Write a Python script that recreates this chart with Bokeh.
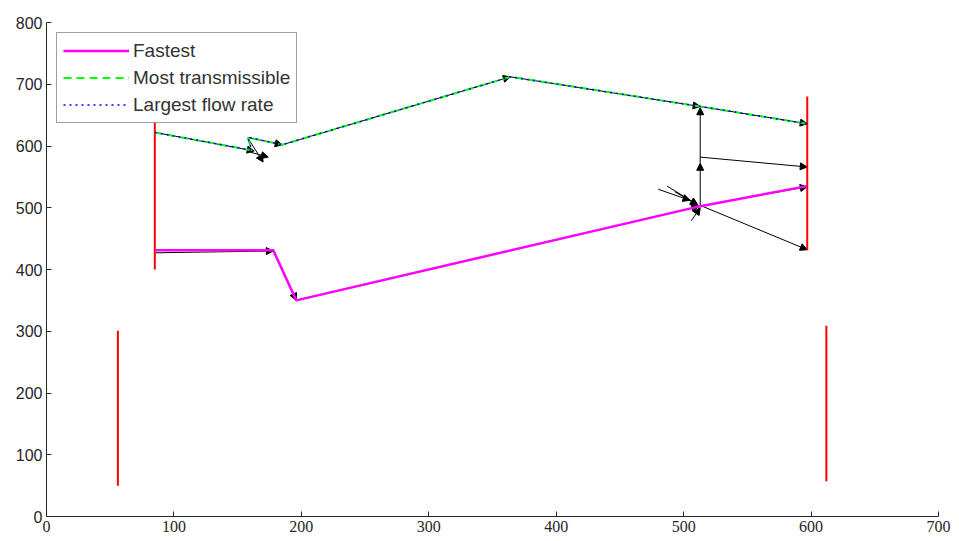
from bokeh.plotting import figure
from bokeh.models import Range1d, ColumnDataSource, Arrow, NormalHead, FixedTicker
from bokeh.embed import file_html
from bokeh.resources import INLINE

# Red boundary bars (x, y-from, y-to)
bar_x = [85, 597, 56, 612]
bar_y0 = [400, 431, 50, 57]
bar_y1 = [645, 680, 301, 309]

# Fastest route
fast_x = [85, 178, 196, 514, 597]
fast_y = [431, 431, 350, 503, 535]

# Most transmissible route
trans_x = [85, 161, 158, 185, 364, 513, 597]
trans_y = [622, 593, 614, 602, 712, 664, 636]

# Largest flow rate route
flow_x = [85, 161, 158, 185, 364, 513, 597]
flow_y = [622, 593, 614, 602, 712, 664, 636]

# Network edges (black arrows)
edge_x0 = [85, 158, 160, 158, 185, 364, 513, 85, 178, 196, 514, 513, 513, 513, 514, 487, 493, 506, 480]
edge_y0 = [622, 613, 590, 614, 602, 712, 664, 427, 430, 350, 503, 503, 572, 582, 503, 535, 526, 479, 530]
edge_x1 = [163, 170, 174, 185, 364, 513, 597, 178, 196, 512, 597, 513, 513, 597, 597, 511, 511, 513, 505]
edge_y1 = [592, 574, 582, 602, 712, 664, 636, 430, 350, 502, 534, 572, 662, 566, 432, 505, 504, 500, 512]

x_ticks = [0, 100, 200, 300, 400, 500, 600, 700]
y_ticks = [0, 100, 200, 300, 400, 500, 600, 700, 800]

p = figure(frame_width=892, frame_height=494, output_backend="svg", toolbar_location=None,
           x_range=Range1d(0, 700), y_range=Range1d(0, 800),
           min_border_left=46, min_border_right=21, min_border_top=22, min_border_bottom=25)
p.outline_line_color = None
p.xgrid.visible = False
p.ygrid.visible = False
p.background_fill_color = "white"
p.border_fill_color = "white"

for ax in (p.xaxis[0], p.yaxis[0]):
    ax.axis_line_color = "#262626"
    ax.major_tick_line_color = "#262626"
    ax.major_tick_in = 5
    ax.major_tick_out = 0
    ax.minor_tick_line_color = None
    ax.major_label_text_color = "#262626"
    ax.major_label_text_font = "Liberation Sans"
    ax.major_label_text_font_size = "16px"
    ax.major_label_standoff = 4
p.xaxis[0].ticker = FixedTicker(ticks=x_ticks)
p.yaxis[0].ticker = FixedTicker(ticks=y_ticks)
p.xaxis[0].major_label_text_font = "Liberation Sans Narrow"
p.xaxis[0].major_label_text_font_size = "16px"

# edges
src = ColumnDataSource(dict(x0=edge_x0, y0=edge_y0, x1=edge_x1, y1=edge_y1))
arr = Arrow(end=NormalHead(size=7, fill_color="black", line_color="black", line_width=1),
            x_start="x0", y_start="y0", x_end="x1", y_end="y1", source=src,
            line_color="black", line_width=1, level="underlay")
p.add_layout(arr)

# red bars
p.segment(x0=bar_x, y0=bar_y0, x1=bar_x, y1=bar_y1, line_color="#FF0000", line_width=2)

# routes
p.line(fast_x, fast_y, line_color="#FF00FF", line_width=2.5, legend_label="Fastest")
p.line(trans_x, trans_y, line_color="#00FF00", line_width=2, line_dash="8 5",
       legend_label="Most transmissible")
p.line(flow_x, flow_y, line_color="#0000FF", line_width=1.5, line_dash="2 4",
       legend_label="Largest flow rate")

lg = p.legend[0]
lg.location = "top_left"
lg.margin = 10
lg.padding = 6
lg.spacing = 4
lg.glyph_width = 66
lg.glyph_height = 23
lg.label_height = 23
lg.label_standoff = 4
lg.label_text_font = "Liberation Sans"
lg.label_text_font_size = "19px"
lg.label_text_color = "#333333"
lg.border_line_color = "#404040"
lg.border_line_width = 1
lg.background_fill_alpha = 1.0

open("out.html", "w").write(file_html(p, INLINE))
